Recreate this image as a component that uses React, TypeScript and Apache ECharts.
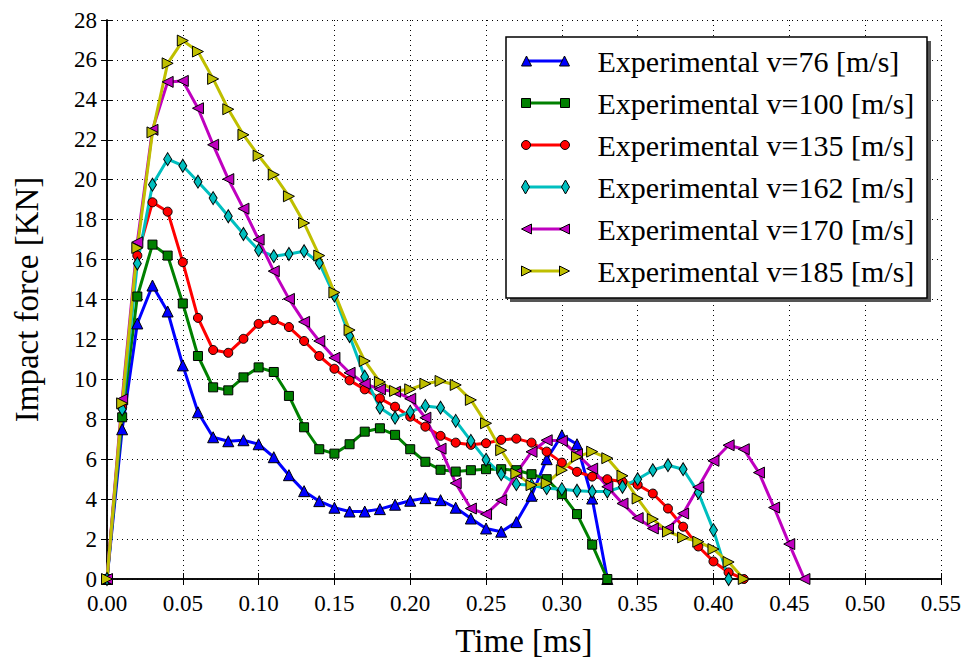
import React, { useEffect, useRef } from "react";
import * as echarts from "echarts";

const FONT = "Liberation Serif, DejaVu Serif, serif";

// Time stamps (ms) of the measured points
const timeMs = [
  0.0, 0.01, 0.02, 0.03, 0.04, 0.05, 0.06, 0.07, 0.08, 0.09, 0.1, 0.11, 0.12,
  0.13, 0.14, 0.15, 0.16, 0.17, 0.18, 0.19, 0.2, 0.21, 0.22, 0.23, 0.24, 0.25,
  0.26, 0.27, 0.28, 0.29, 0.3, 0.31, 0.32, 0.33, 0.34, 0.35, 0.36, 0.37, 0.38,
  0.39, 0.4, 0.41, 0.42, 0.43, 0.44, 0.45, 0.46,
];

const xTicks = [0, 0.55, 0.05]; // min, max, step
const yTicks = [0, 28, 2];

const seriesNames = [
  "Experimental v=76 [m/s]",
  "Experimental v=100 [m/s]",
  "Experimental v=135 [m/s]",
  "Experimental v=162 [m/s]",
  "Experimental v=170 [m/s]",
  "Experimental v=185 [m/s]",
];

const v76 = [
  0, 7.5, 12.8, 14.7, 13.4, 10.7, 8.35, 7.1, 6.9, 6.95, 6.75, 6.1, 5.2, 4.4,
  3.9, 3.57, 3.38, 3.38, 3.5, 3.72, 3.92, 4.05, 3.95, 3.57, 3.03, 2.53, 2.37,
  2.85, 4.17, 6.0, 7.2, 6.75, 4.03, 0,
];
const v100 = [
  0, 8.1, 14.15, 16.75, 16.2, 13.8, 11.17, 9.6, 9.45, 10.1, 10.6, 10.37, 9.17,
  7.6, 6.5, 6.28, 6.75, 7.38, 7.55, 7.22, 6.5, 5.87, 5.47, 5.38, 5.45, 5.5,
  5.5, 5.45, 5.25, 5.0, 4.25, 3.25, 1.72, 0,
];
const v135 = [
  0, 8.6, 16.2, 18.87, 18.4, 15.87, 13.08, 11.47, 11.33, 12.03, 12.78, 12.97,
  12.62, 11.92, 11.17, 10.53, 9.95, 9.5, 9.05, 8.63, 8.13, 7.63, 7.17, 6.83,
  6.72, 6.8, 6.97, 7.03, 6.83, 6.38, 5.83, 5.37, 5.13, 5.0, 4.87, 4.72, 4.28,
  3.53, 2.62, 1.63, 0.88, 0.33, 0,
];
const v162 = [
  0, 8.5, 15.8, 19.75, 21.03, 20.7, 19.9, 19.08, 18.17, 17.28, 16.47, 16.17,
  16.28, 16.42, 15.83, 14.2, 12.17, 10.13, 8.58, 8.08, 8.37, 8.67, 8.58, 7.92,
  6.92, 5.97, 5.25, 4.75, 4.7, 4.55, 4.5, 4.42, 4.38, 4.38, 4.62, 5.0, 5.45,
  5.7, 5.5, 4.33, 2.45, 0,
];
const v170 = [
  0, 9.0, 16.87, 22.5, 24.9, 24.95, 23.58, 21.75, 20.03, 18.55, 17.0, 15.42,
  14.03, 12.88, 11.92, 11.08, 10.33, 9.78, 9.5, 9.38, 9.03, 8.08, 6.53, 4.8,
  3.53, 3.25, 3.95, 5.3, 6.37, 6.95, 6.92, 6.25, 5.53, 4.62, 3.78, 3.05, 2.53,
  2.53, 3.28, 4.6, 5.92, 6.7, 6.5, 5.33, 3.58, 1.75, 0,
];
const v185 = [
  0, 8.8, 16.58, 22.37, 25.83, 26.97, 26.42, 25.05, 23.53, 22.25, 21.2, 20.25,
  19.17, 17.83, 16.2, 14.35, 12.47, 10.92, 9.87, 9.42, 9.5, 9.78, 9.92, 9.72,
  8.97, 7.8, 6.45, 5.28, 4.7, 4.8, 5.45, 6.12, 6.38, 6.05, 5.17, 4.03, 3.0,
  2.37, 2.08, 1.87, 1.5, 0.85, 0,
];

const seriesValues = [v76, v100, v135, v162, v170, v185];

const colors = ["#0000ff", "#008000", "#ff0000", "#00bfbf", "#bf00bf", "#bfbf00"];

const markers: { symbol: string; size: number | number[]; rotate: number }[] = [
  { symbol: "triangle", size: 11, rotate: 0 },
  { symbol: "rect", size: 9, rotate: 0 },
  { symbol: "circle", size: 9, rotate: 0 },
  { symbol: "diamond", size: [8, 13], rotate: 0 },
  { symbol: "triangle", size: 11, rotate: 90 },
  { symbol: "triangle", size: 11, rotate: -90 },
];

const legendIcons = [
  "path://M0,12 L5,2 L10,12 Z M38,12 L43,2 L48,12 Z",
  "path://M0,2.5 L9,2.5 L9,11.5 L0,11.5 Z M39,2.5 L48,2.5 L48,11.5 L39,11.5 Z",
  "path://M0,7 A4.5,4.5 0 1 1 9,7 A4.5,4.5 0 1 1 0,7 Z M39,7 A4.5,4.5 0 1 1 48,7 A4.5,4.5 0 1 1 39,7 Z",
  "path://M4,0 L8,7 L4,14 L0,7 Z M44,0 L48,7 L44,14 L40,7 Z",
  "path://M0,7 L10,2 L10,12 Z M38,7 L48,2 L48,12 Z",
  "path://M0,2 L10,7 L0,12 Z M38,2 L48,7 L38,12 Z",
];

export default function App() {
  const ref = useRef<HTMLDivElement>(null);

  useEffect(() => {
    if (!ref.current) return;
    const chart = echarts.init(ref.current, undefined, { renderer: "svg" });

    const gridLeft = 107;
    const gridTop = 20;
    const gridW = 835;
    const gridH = 560;

    const baseAxisLine = { show: true, lineStyle: { color: "#000", width: 1.5 } };
    const tick = { show: true, inside: true, length: 6, lineStyle: { color: "#000", width: 1 } };
    const split = { show: true, lineStyle: { color: "#000", width: 1, type: [1, 4] } };

    const series = seriesNames.map((name, i) => ({
      name,
      type: "line",
      data: seriesValues[i].map((v, k) => [timeMs[k], v]),
      symbol: markers[i].symbol,
      symbolSize: markers[i].size,
      symbolRotate: markers[i].rotate,
      showAllSymbol: true,
      lineStyle: { color: colors[i], width: 3 },
      itemStyle: { color: colors[i], borderColor: "#000", borderWidth: 1 },
      emphasis: { disabled: true },
      z: 3,
    }));

    const legendTop = 45;
    const rowGap = 42;
    const graphics: any[] = [
      {
        type: "rect",
        z: 10,
        shape: { x: 510, y: 41, width: 421, height: 261 },
        style: { fill: "#555" },
      },
      {
        type: "rect",
        z: 10,
        shape: { x: 506, y: 37, width: 421, height: 261 },
        style: { fill: "#fff", stroke: "#000", lineWidth: 1.5 },
      },
    ];
    colors.forEach((c, i) => {
      const y = legendTop + 16 + rowGap * i;
      graphics.push({
        type: "line",
        z: 11,
        shape: { x1: 526, y1: y, x2: 564, y2: y },
        style: { stroke: c, lineWidth: 3 },
      });
    });

    chart.setOption({
      animation: false,
      backgroundColor: "#fff",
      textStyle: { fontFamily: FONT },
      grid: { left: gridLeft, top: gridTop, width: gridW, height: gridH, containLabel: false },
      xAxis: [
        {
          type: "value",
          min: xTicks[0],
          max: xTicks[1],
          interval: xTicks[2],
          name: "Time [ms]",
          nameLocation: "middle",
          nameGap: 45,
          nameTextStyle: { fontFamily: FONT, fontSize: 33, color: "#000" },
          axisLine: baseAxisLine,
          axisTick: tick,
          splitLine: split,
          axisLabel: {
            fontFamily: FONT,
            fontSize: 23,
            color: "#000",
            margin: 14,
            lineHeight: 20,
            formatter: (v: number) => v.toFixed(2),
          },
        },
        {
          type: "value",
          position: "top",
          min: xTicks[0],
          max: xTicks[1],
          interval: xTicks[2],
          axisLine: baseAxisLine,
          axisTick: tick,
          splitLine: { show: false },
          axisLabel: { show: false },
        },
      ],
      yAxis: [
        {
          type: "value",
          min: yTicks[0],
          max: yTicks[1],
          interval: yTicks[2],
          name: "Impact force [KN]",
          nameLocation: "middle",
          nameGap: 64,
          nameTextStyle: { fontFamily: FONT, fontSize: 33, color: "#000" },
          axisLine: baseAxisLine,
          axisTick: tick,
          splitLine: split,
          axisLabel: { fontFamily: FONT, fontSize: 23, color: "#000", margin: 10, lineHeight: 18 },
        },
        {
          type: "value",
          position: "right",
          min: yTicks[0],
          max: yTicks[1],
          interval: yTicks[2],
          axisLine: baseAxisLine,
          axisTick: tick,
          splitLine: { show: false },
          axisLabel: { show: false },
        },
      ],
      legend: {
        orient: "vertical",
        left: 521,
        top: legendTop,
        padding: 0,
        itemWidth: 48,
        itemHeight: 14,
        itemGap: rowGap - 32,
        selectedMode: false,
        z: 20,
        symbolKeepAspect: true,
        itemStyle: { borderColor: "#000", borderWidth: 1 },
        textStyle: {
          fontFamily: FONT,
          fontSize: 30,
          color: "#000",
          lineHeight: 32,
          padding: [0, 0, 0, 23],
        },
        data: seriesNames.map((n, i) => ({ name: n, icon: legendIcons[i] })),
      },
      graphic: { elements: graphics },
      series,
    });

    return () => chart.dispose();
  }, []);

  return (
    <div
      ref={ref}
      style={{ position: "fixed", left: 0, top: 0, width: 964, height: 662, background: "#fff" }}
    />
  );
}
